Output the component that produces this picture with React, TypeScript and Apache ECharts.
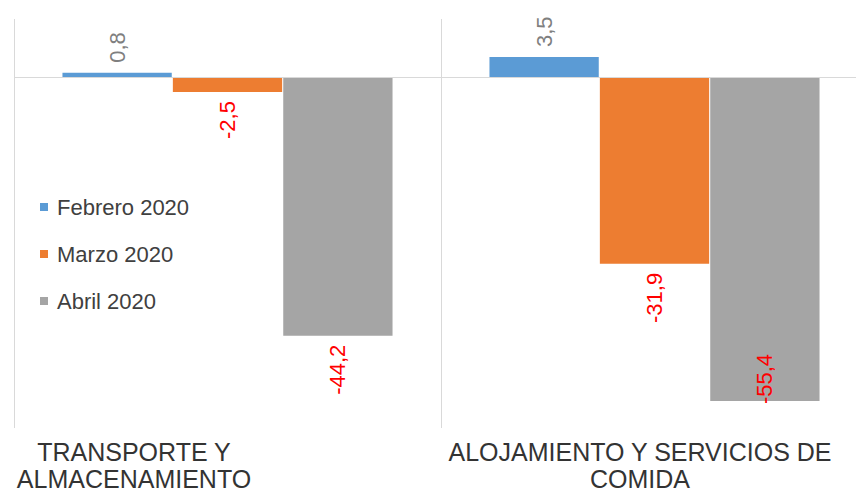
import React, { useEffect, useRef } from "react";
import * as echarts from "echarts";

const categories = ["TRANSPORTE Y\nALMACENAMIENTO", "ALOJAMIENTO Y SERVICIOS DE\nCOMIDA"];
const seriesNames = ["Febrero 2020", "Marzo 2020", "Abril 2020"];
const febrero = [0.8, 3.5];
const marzo = [-2.5, -31.9];
const abril = [-44.2, -55.4];
const colors = ["#5B9BD5", "#ED7D31", "#A5A5A5"];

const Y_MIN = -60;
const Y_MAX = 10;

function fmt(v: number) {
  return v.toFixed(1).replace(".", ",");
}

function pointLabel(v: number) {
  const base = {
    show: true,
    rotate: 90,
    verticalAlign: "middle",
    fontFamily: "Liberation Sans",
    fontSize: 22,
    formatter: () => fmt(v),
  };
  if (v >= 0) {
    return { ...base, position: "top", align: "left", distance: 10, color: "#7F7F7F" };
  }
  if (v - 11 < Y_MIN) {
    return { ...base, position: "insideBottom", align: "left", distance: -3, color: "#FF0000" };
  }
  return { ...base, position: "bottom", align: "right", distance: 9, color: "#FF0000" };
}

export default function App() {
  const ref = useRef<HTMLDivElement>(null);
  useEffect(() => {
    if (!ref.current) return;
    const chart = echarts.init(ref.current, null, { renderer: "svg" });
    const all = [febrero, marzo, abril];
    const labelPads = [[0, 187, 0, 0], [0, 29, 0, 0]];
    chart.setOption({
      animation: false,
      backgroundColor: "#ffffff",
      grid: {
        left: 14,
        top: 19,
        width: 854,
        height: 409,
        containLabel: false,
        outerBoundsMode: "none",
      },
      legend: {
        orient: "vertical",
        left: 40,
        top: 195,
        padding: 0,
        itemWidth: 8,
        itemHeight: 8,
        itemGap: 23,
        icon: "rect",
        data: seriesNames,
        textStyle: {
          fontFamily: "Liberation Sans",
          fontSize: 22,
          lineHeight: 24,
          color: "#404040",
          padding: [0, 0, 0, 4],
        },
      },
      xAxis: {
        type: "category",
        data: categories.map((c, i) => ({
          value: c,
          textStyle: { padding: labelPads[i] },
        })),
        axisLine: { show: false },
        axisTick: { show: false },
        axisLabel: {
          interval: 0,
          margin: 10,
          fontFamily: "Liberation Sans",
          fontSize: 25,
          lineHeight: 27,
          color: "#333333",
          align: "center",
        },
        splitLine: { show: true, lineStyle: { color: "#D9D9D9", width: 1 } },
      },
      yAxis: {
        type: "value",
        min: Y_MIN,
        max: Y_MAX,
        interval: 10,
        show: false,
        splitLine: { show: false },
      },
      series: seriesNames.map((name, si) => ({
        name,
        type: "bar",
        barGap: "1%",
        barCategoryGap: "22.7%",
        itemStyle: { color: colors[si] },
        data: all[si].map((v) => ({ value: v, label: pointLabel(v) })),
        markLine:
          si === 0
            ? {
                silent: true,
                symbol: "none",
                label: { show: false },
                lineStyle: { color: "#D9D9D9", type: "solid", width: 1 },
                data: [{ yAxis: 0 }],
              }
            : undefined,
      })),
    });
    return () => chart.dispose();
  }, []);
  return (
    <div
      style={{
        position: "absolute",
        left: 0,
        top: 0,
        width: 856,
        height: 491,
        overflow: "hidden",
        background: "#ffffff",
      }}
    >
      <div ref={ref} style={{ width: 872, height: 491 }} />
    </div>
  );
}
